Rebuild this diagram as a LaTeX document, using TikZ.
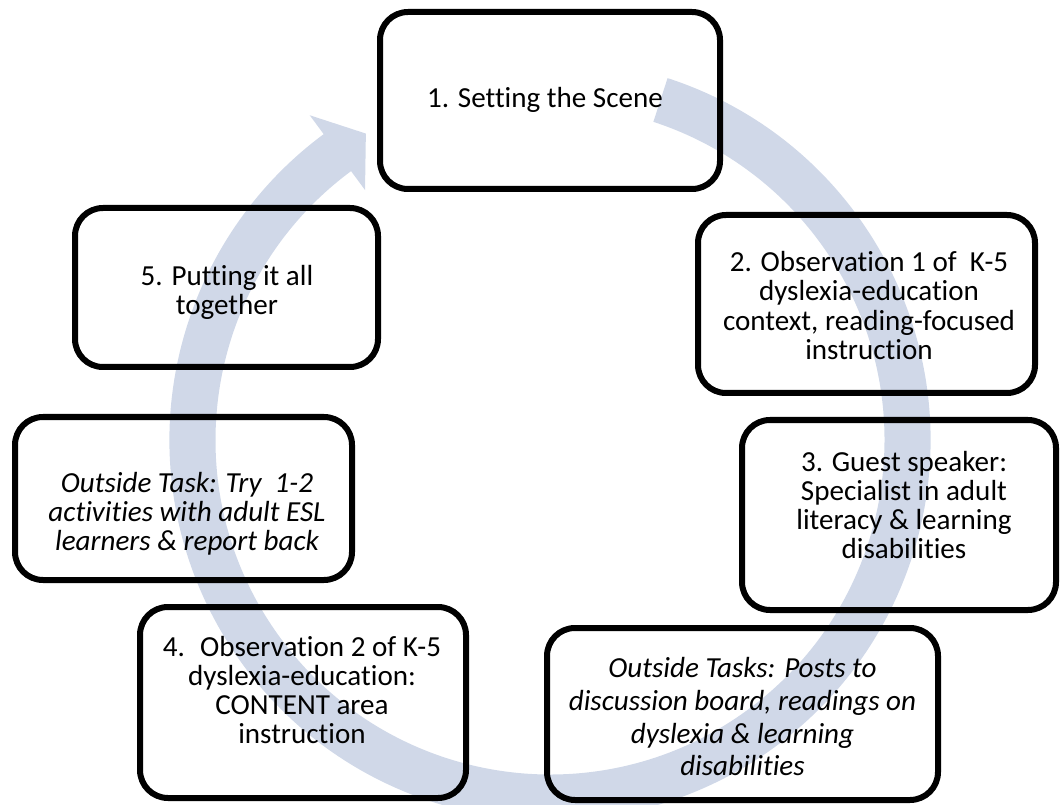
\documentclass[tikz,border=0pt]{standalone}
\usepackage{fontspec}
\setmainfont{Carlito}[RawFeature=-liga]

\definecolor{bandblue}{RGB}{208,216,232}

\tikzset{
  stage/.style={draw=black, line width=4.5pt, rounded corners=21pt},
  stagetext/.style={align=center, inner sep=0pt, font=\fontsize{21.8}{21.8}\selectfont},
}

\begin{document}
\begin{tikzpicture}[x=0.75pt, y=0.75pt]

\useasboundingbox (0,0) rectangle (1060,-805);

% Grande fleche circulaire (derriere les cadres)
\coordinate (hub) at (550,-440);
\fill[bandblue] ([shift={(hub)}]72:380.5) arc[start angle=72, end angle=-233.5, radius=380.5]
  -- ([shift={(hub)}]-233.5:404)
  -- ([shift={(hub)}]-239:357.5)
  -- ([shift={(hub)}]-233.5:311)
  -- ([shift={(hub)}]-233.5:334.5)
  arc[start angle=-233.5, end angle=72, radius=334.5] -- cycle;

% Cadres
\node[stage, minimum width=255pt, minimum height=132.75pt] (scene) at (550,-100.5) {};
\node[stage, minimum width=252.75pt, minimum height=133.5pt] (obsone) at (866.5,-304) {};
\node[stage, minimum width=235.5pt, minimum height=142.5pt] (guest) at (899,-515) {};
\node[stage, minimum width=293.25pt, minimum height=129pt] (posts) at (742.5,-714) {};
\node[stage, minimum width=244.5pt, minimum height=143.25pt] (obstwo) at (303,-702.5) {};
\node[stage, minimum width=252.75pt, minimum height=122.25pt] (trytask) at (183.5,-498.5) {};
\node[stage, minimum width=227.25pt, minimum height=119.25pt] (together) at (226.5,-287.5) {};

% Textes
\node[stagetext] (scenetext) at (545,-100) {1. Setting the Scene};
\node[stagetext] (obsonetext) at (869,-305.5) {2. Observation 1 of~ K-5\\dyslexia-education\\context, reading-focused\\instruction};
\node[stagetext] (guesttext) at (904,-505) {3. Guest speaker:\\Specialist in adult\\literacy \& learning\\disabilities};
\node[stagetext, font=\fontsize{21.8}{24.5}\selectfont\itshape] (poststext) at (742.5,-717) {Outside Tasks: Posts to\\discussion board, readings on\\dyslexia \& learning\\disabilities};
\node[stagetext] (obstwotext) at (302,-690) {4.~ Observation 2 of K-5\\dyslexia-education:\\CONTENT area\\instruction};
\node[stagetext, font=\fontsize{21.8}{21.8}\selectfont\itshape] (trytext) at (187,-514) {Outside Task: Try~ 1-2\\activities with adult ESL\\learners \& report back};
\node[stagetext] (togethertext) at (227,-292) {5. Putting it all\\together};

\end{tikzpicture}
\end{document}
